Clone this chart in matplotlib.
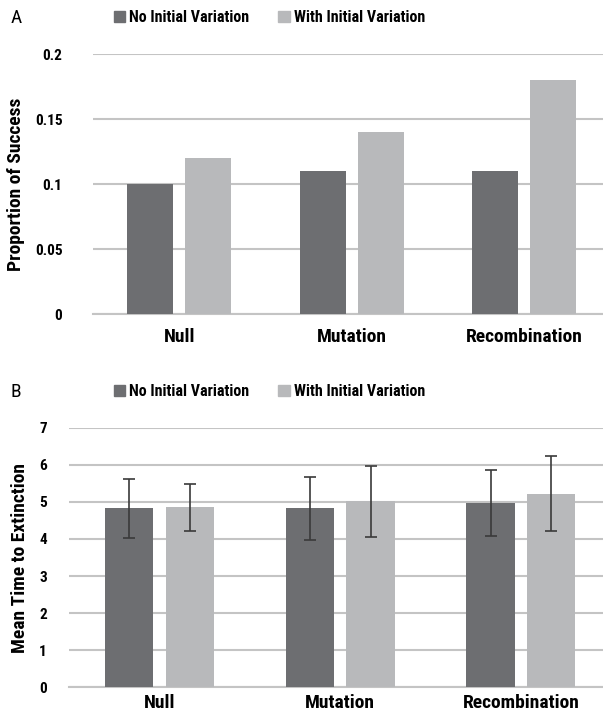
import matplotlib
matplotlib.use("Agg")
import matplotlib.pyplot as plt
from matplotlib.patches import Patch
import numpy as np
from matplotlib import font_manager

categories = ["Null", "Mutation", "Recombination"]
series_names = ["No Initial Variation", "With Initial Variation"]

success_no = [0.10, 0.11, 0.11]
success_with = [0.12, 0.14, 0.18]

time_no = [4.83, 4.83, 4.97]
time_with = [4.85, 5.03, 5.22]
time_no_err_hi = [5.63, 5.66, 5.86]
time_no_err_lo = [4.03, 3.96, 4.08]
time_with_err_hi = [5.49, 5.98, 6.24]
time_with_err_lo = [4.22, 4.05, 4.22]

a_ticks = [0, 0.05, 0.1, 0.15, 0.2]
a_ticklabels = ["0", "0.05", "0.1", "0.15", "0.2"]
b_ticks = [0, 1, 2, 3, 4, 5, 6, 7]

avail = {f.name for f in font_manager.fontManager.ttflist}
fam = [f for f in ["Liberation Sans Narrow", "Roboto Condensed", "DejaVu Sans Condensed", "Roboto", "DejaVu Sans"] if f in avail]
plt.rcParams['font.family'] = fam

DARK = "#6d6e71"
LIGHT = "#b8b9bb"
GRID = "#c4c4c4"
ERR = "#3a3a3a"

fig = plt.figure(figsize=(6.03, 7.15), dpi=100)

def style(ax, ticks, labels, ylim, xlim, xpad):
    ax.set_ylim(*ylim)
    ax.set_xlim(*xlim)
    ax.set_yticks(ticks)
    ax.set_yticklabels(labels, fontsize=11, fontweight="bold")
    ax.set_xticks(range(len(categories)))
    ax.set_xticklabels(categories, fontsize=14, fontweight="bold")
    ax.tick_params(axis="both", length=0)
    ax.tick_params(axis="x", pad=xpad)
    for s in ["top", "right", "left"]:
        ax.spines[s].set_visible(False)
    ax.spines["bottom"].set_color(GRID)
    ax.spines["bottom"].set_linewidth(1.5)
    ax.grid(axis="y", color=GRID, linewidth=1.5)
    ax.set_axisbelow(True)

x = np.arange(len(categories))
w = 0.267
off = 0.168

# Panel A
axA = fig.add_axes([0.1542, 0.5608, 0.8458, 0.3632])
axA.bar(x - off, success_no, w, color=DARK, zorder=3)
axA.bar(x + off, success_with, w, color=LIGHT, zorder=3)
style(axA, a_ticks, a_ticklabels, (0, 0.2), (-0.5, 2.457), 10)
axA.tick_params(axis="y", pad=22)
axA.set_ylabel("Proportion of Success", fontsize=14, fontweight="bold", labelpad=7)

# Panel B
axB = fig.add_axes([0.1144, 0.0387, 0.8856, 0.3631])
no_err = [np.array(time_no) - np.array(time_no_err_lo), np.array(time_no_err_hi) - np.array(time_no)]
with_err = [np.array(time_with) - np.array(time_with_err_lo), np.array(time_with_err_hi) - np.array(time_with)]
axB.bar(x - off, time_no, w, color=DARK, zorder=3,
        yerr=no_err, error_kw=dict(ecolor=ERR, elinewidth=1.2, capsize=4, capthick=1.2, zorder=4))
axB.bar(x + off, time_with, w, color=LIGHT, zorder=3,
        yerr=with_err, error_kw=dict(ecolor=ERR, elinewidth=1.2, capsize=4, capthick=1.2, zorder=4))
style(axB, b_ticks, [str(t) for t in b_ticks], (0, 7), (-0.5, 2.454), 5)
axB.tick_params(axis="y", pad=16)
axB.set_ylabel("Mean Time to Extinction", fontsize=14, fontweight="bold", labelpad=7)

handles = [Patch(color=DARK, label=series_names[0]), Patch(color=LIGHT, label=series_names[1])]
for yy in (0.975, 0.452):
    fig.legend(handles=handles, loc="center", bbox_to_anchor=(0.447, yy), ncol=2, frameon=False,
               handlelength=0.7, handleheight=0.7, handletextpad=0.3, columnspacing=1.8,
               prop=dict(size=11.5, weight="bold"))

fig.text(0.018, 0.975, "A", fontsize=14, va="center", ha="left")
fig.text(0.018, 0.452, "B", fontsize=14, va="center", ha="left")

fig.savefig("out.png", dpi=100)
